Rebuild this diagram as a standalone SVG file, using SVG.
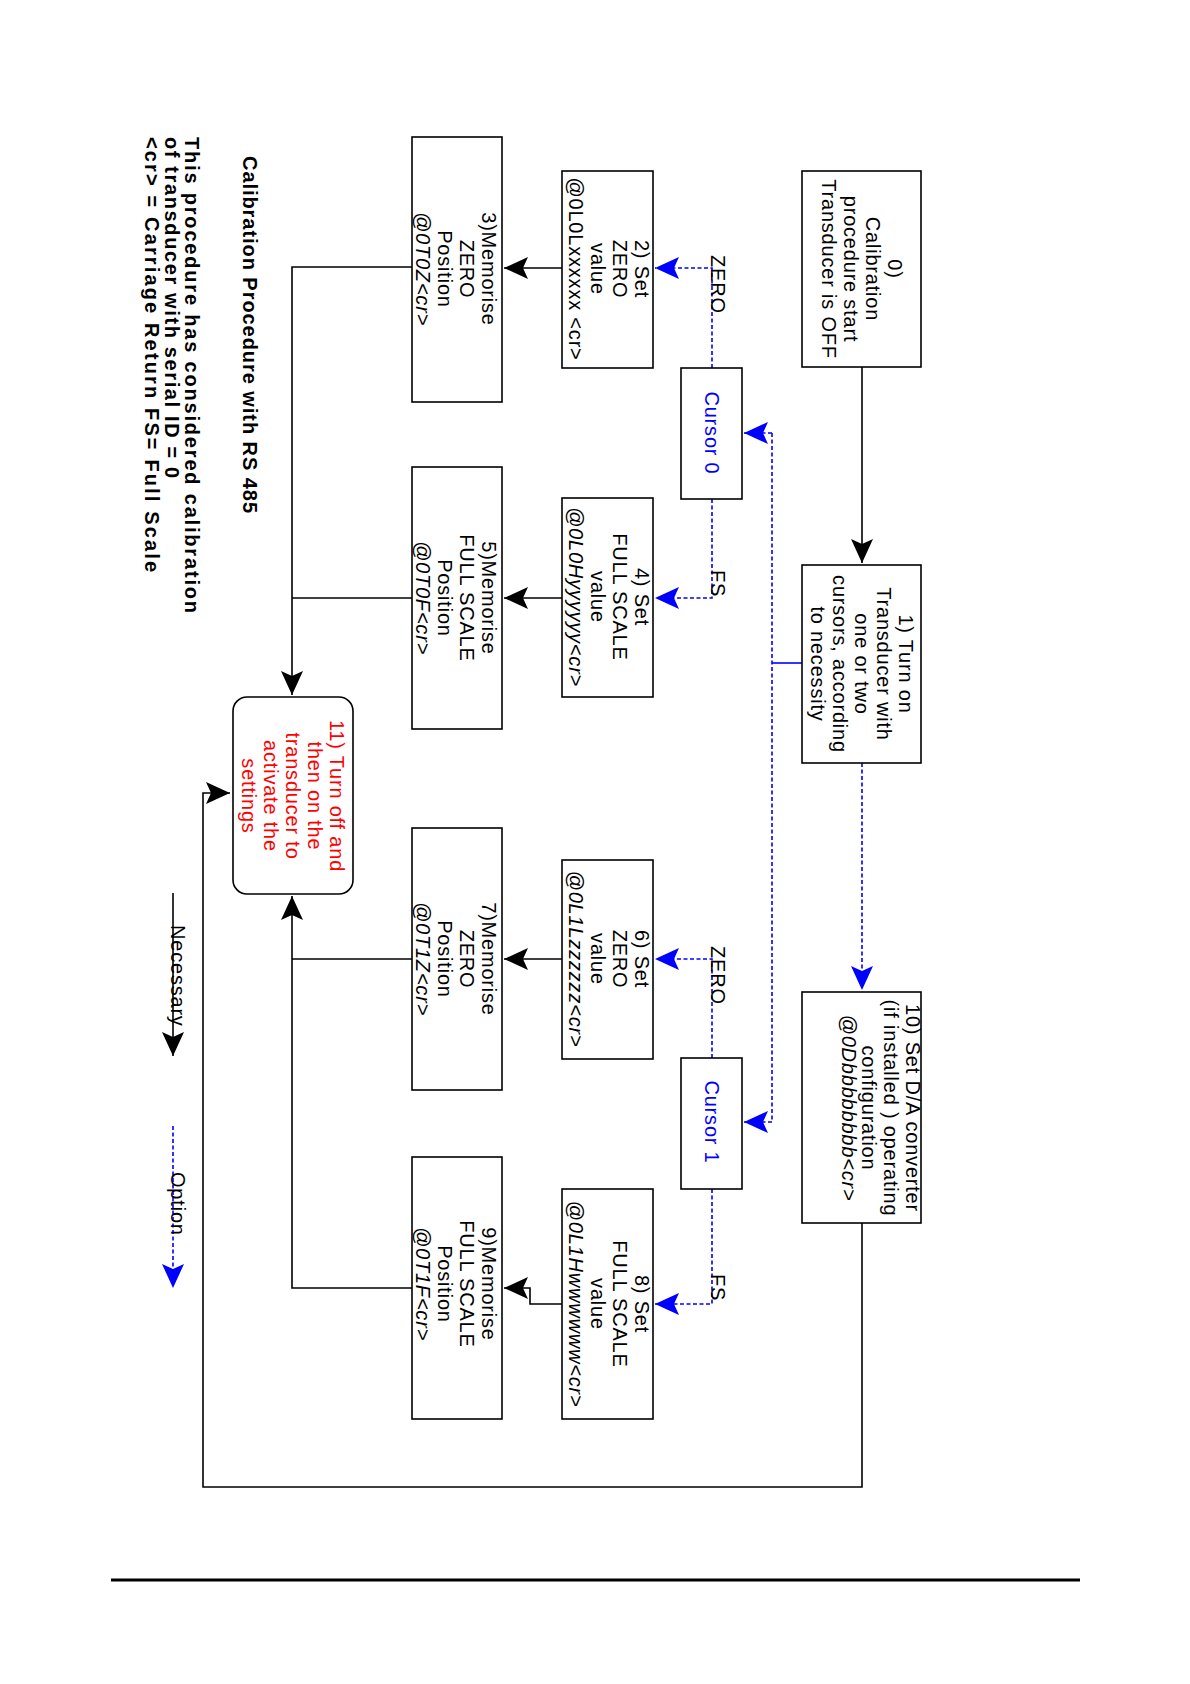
<svg xmlns="http://www.w3.org/2000/svg" width="1190" height="1684" viewBox="0 0 1190 1684">
<style>
.bx{fill:#fff;stroke:#000;stroke-width:1.6}
.t{font-family:"Liberation Sans",Arial,sans-serif;font-size:20px;letter-spacing:0.8px;fill:#000;text-anchor:middle}
.it{font-style:italic}
.red{fill:#ff0000}
.blu{fill:#0000ff}
.ln{fill:none;stroke:#000;stroke-width:1.6}
.dl{fill:none;stroke:#0000ff;stroke-width:1.6;stroke-dasharray:4 2.5}
.sl{fill:none;stroke:#0000ff;stroke-width:1.6}
.b{font-family:"Liberation Sans",Arial,sans-serif;font-weight:bold;font-size:20px;fill:#000}
.lab{font-family:"Liberation Sans",Arial,sans-serif;font-size:20px;letter-spacing:0.8px;fill:#000}
</style>
<defs>
<marker id="ak" markerWidth="26" markerHeight="22" refX="24" refY="11" orient="auto" markerUnits="userSpaceOnUse"><path d="M24,11 L0,0 L5,11 L0,22 z" fill="#000"/></marker>
<marker id="ab" markerWidth="26" markerHeight="22" refX="24" refY="11" orient="auto" markerUnits="userSpaceOnUse"><path d="M24,11 L0,0 L5,11 L0,22 z" fill="#0000ff"/></marker>
</defs>
<rect width="1190" height="1684" fill="#fff"/>

<g id="connectors">
<path class="ln" d="M862,367 V563" marker-end="url(#ak)"/>
<path class="dl" d="M862,763 V990" marker-end="url(#ab)"/>
<path class="sl" d="M802,663 H772"/>
<path class="dl" d="M772,433 V1122"/>
<path class="dl" d="M772,433 H744" marker-end="url(#ab)"/>
<path class="dl" d="M772,1122 H744" marker-end="url(#ab)"/>
<path class="dl" d="M712,368 V268 H655" marker-end="url(#ab)"/>
<path class="dl" d="M712,499 V598 H655" marker-end="url(#ab)"/>
<path class="dl" d="M712,1058 V959 H655" marker-end="url(#ab)"/>
<path class="dl" d="M712,1189 V1304 H655" marker-end="url(#ab)"/>
<path class="ln" d="M562,268 H504" marker-end="url(#ak)"/>
<path class="ln" d="M562,598 H504" marker-end="url(#ak)"/>
<path class="ln" d="M562,959 H504" marker-end="url(#ak)"/>
<path class="ln" d="M562,1304 H530 V1288 H504" marker-end="url(#ak)"/>
<path class="ln" d="M412,267 H292 V695" marker-end="url(#ak)"/>
<path class="ln" d="M412,598 H292"/>
<path class="ln" d="M412,959 H292"/>
<path class="ln" d="M412,1288 H292 V896" marker-end="url(#ak)"/>
<path class="ln" d="M862,1223 V1487 H203 V793 H230" marker-end="url(#ak)"/>
</g>

<g id="n0">
<rect class="bx" x="802" y="171" width="119" height="196"/>
<text class="t" transform="translate(861.5,269) rotate(90)"><tspan x="0" y="-26">0)</tspan><tspan x="0" y="-4">Calibration</tspan><tspan x="0" y="18">procedure start</tspan><tspan x="0" y="40">Transducer is OFF</tspan></text>
</g>
<g id="n1">
<rect class="bx" x="802" y="565" width="119" height="198"/>
<text class="t" transform="translate(861.5,664) rotate(90)"><tspan x="0" y="-37">1) Turn on</tspan><tspan x="0" y="-15">Transducer with</tspan><tspan x="0" y="7">one or two</tspan><tspan x="0" y="29">cursors, according</tspan><tspan x="0" y="51">to necessity</tspan></text>
</g>
<g id="n10">
<rect class="bx" x="802" y="992" width="119" height="231"/>
<text class="t" transform="translate(861.5,1108) rotate(90)"><tspan x="0" y="-44">10) Set D/A converter</tspan><tspan x="0" y="-22">(if installed ) operating</tspan><tspan x="0" y="0">configuration</tspan><tspan x="0" y="20" class="it">@0Dbbbbbbbb&lt;cr&gt;</tspan></text>
</g>
<g id="c0">
<rect class="bx" x="681" y="368" width="61" height="131"/>
<text class="t blu" transform="translate(711.5,433) rotate(90)"><tspan x="0" y="7">Cursor 0</tspan></text>
</g>
<g id="c1">
<rect class="bx" x="681" y="1058" width="61" height="131"/>
<text class="t blu" transform="translate(711.5,1122) rotate(90)"><tspan x="0" y="7">Cursor 1</tspan></text>
</g>
<g id="n2">
<rect class="bx" x="562" y="171" width="91" height="197"/>
<text class="t" transform="translate(607.5,269) rotate(90)"><tspan x="0" y="-27">2) Set</tspan><tspan x="0" y="-5">ZERO</tspan><tspan x="0" y="17">value</tspan><tspan x="0" y="39">@0L0Lxxxxxx &lt;cr&gt;</tspan></text>
</g>
<g id="n4">
<rect class="bx" x="562" y="498" width="91" height="199"/>
<text class="t" transform="translate(607.5,597) rotate(90)"><tspan x="0" y="-27">4) Set</tspan><tspan x="0" y="-5">FULL SCALE</tspan><tspan x="0" y="17">value</tspan><tspan x="0" y="39" class="it">@0L0Hyyyyyy&lt;cr&gt;</tspan></text>
</g>
<g id="n6">
<rect class="bx" x="562" y="860" width="91" height="199"/>
<text class="t" transform="translate(607.5,959) rotate(90)"><tspan x="0" y="-27">6) Set</tspan><tspan x="0" y="-5">ZERO</tspan><tspan x="0" y="17">value</tspan><tspan x="0" y="39" class="it">@0L1Lzzzzzz&lt;cr&gt;</tspan></text>
</g>
<g id="n8">
<rect class="bx" x="562" y="1189" width="91" height="230"/>
<text class="t" transform="translate(607.5,1304) rotate(90)"><tspan x="0" y="-27">8) Set</tspan><tspan x="0" y="-5">FULL SCALE</tspan><tspan x="0" y="17">value</tspan><tspan x="0" y="39" class="it">@0L1Hwwwwww&lt;cr&gt;</tspan></text>
</g>
<g id="n3">
<rect class="bx" x="412" y="137" width="90" height="265"/>
<text class="t" transform="translate(456,269) rotate(90)"><tspan x="0" y="-26">3)Memorise</tspan><tspan x="0" y="-4">ZERO</tspan><tspan x="0" y="18">Position</tspan><tspan x="0" y="40" class="it">@0T0Z&lt;cr&gt;</tspan></text>
</g>
<g id="n5">
<rect class="bx" x="412" y="467" width="90" height="262"/>
<text class="t" transform="translate(456,598) rotate(90)"><tspan x="0" y="-26">5)Memorise</tspan><tspan x="0" y="-4">FULL SCALE</tspan><tspan x="0" y="18">Position</tspan><tspan x="0" y="40" class="it">@0T0F&lt;cr&gt;</tspan></text>
</g>
<g id="n7">
<rect class="bx" x="412" y="828" width="90" height="262"/>
<text class="t" transform="translate(456,959) rotate(90)"><tspan x="0" y="-26">7)Memorise</tspan><tspan x="0" y="-4">ZERO</tspan><tspan x="0" y="18">Position</tspan><tspan x="0" y="40" class="it">@0T1Z&lt;cr&gt;</tspan></text>
</g>
<g id="n9">
<rect class="bx" x="412" y="1157" width="90" height="262"/>
<text class="t" transform="translate(456,1284) rotate(90)"><tspan x="0" y="-26">9)Memorise</tspan><tspan x="0" y="-4">FULL SCALE</tspan><tspan x="0" y="18">Position</tspan><tspan x="0" y="40" class="it">@0T1F&lt;cr&gt;</tspan></text>
</g>
<g id="n11">
<rect class="bx" x="233" y="697" width="120" height="197" rx="14" ry="14"/>
<text class="t red" transform="translate(293,796) rotate(90)"><tspan x="0" y="-37">11)  Turn off and</tspan><tspan x="0" y="-15">then on the</tspan><tspan x="0" y="7">transducer to</tspan><tspan x="0" y="29">activate the</tspan><tspan x="0" y="51">settings</tspan></text>
</g>

<g id="labels">
<text class="lab" transform="translate(711,255) rotate(90)">ZERO</text>
<text class="lab" transform="translate(711,570) rotate(90)">FS</text>
<text class="lab" transform="translate(711,946) rotate(90)">ZERO</text>
<text class="lab" transform="translate(711,1274) rotate(90)">FS</text>
</g>

<g id="legend">
<path class="ln" d="M173,893 V1056" marker-end="url(#ak)"/>
<text class="lab" transform="translate(171,925) rotate(90)">Necessary</text>
<path class="dl" d="M173,1126 V1288" marker-end="url(#ab)"/>
<text class="lab" transform="translate(171,1172) rotate(90)">Option</text>
</g>

<g id="notes">
<text class="b" transform="translate(243,156) rotate(90)" textLength="357">Calibration Procedure with RS 485</text>
<text class="b" transform="translate(185,137) rotate(90)" textLength="476">This procedure  has considered calibration</text>
<text class="b" transform="translate(165,137) rotate(90)" textLength="341">of transducer with serial  ID = 0</text>
<text class="b" transform="translate(145,137) rotate(90)" textLength="435">&lt;cr&gt; = Carriage Return    FS= Full Scale</text>
</g>

<line x1="111" y1="1580" x2="1080" y2="1580" stroke="#000" stroke-width="3"/>
</svg>
